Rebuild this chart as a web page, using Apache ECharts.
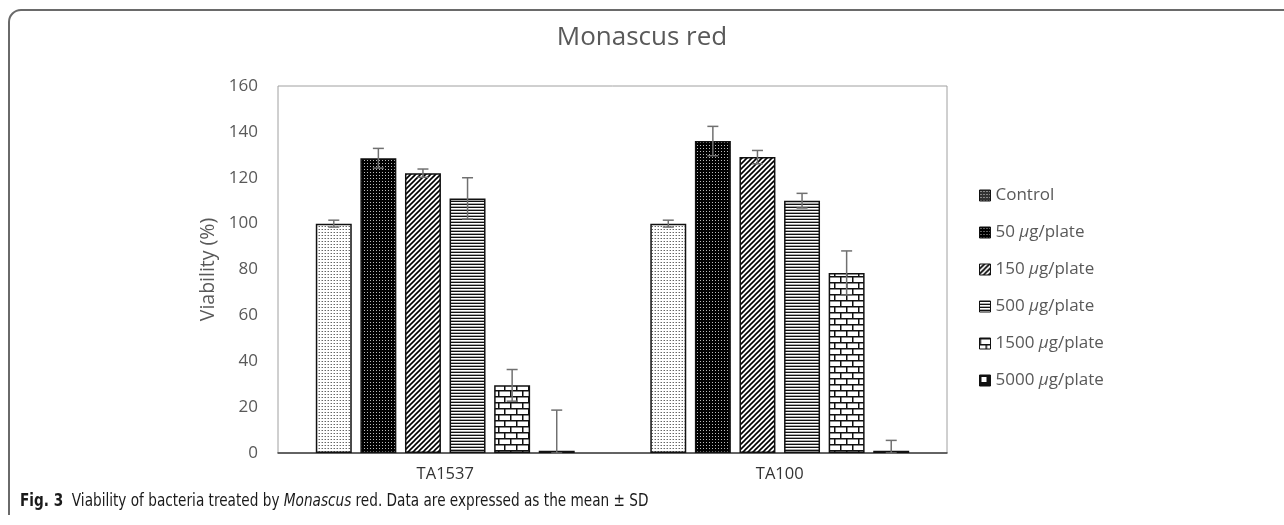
<!DOCTYPE html>
<html>
<head>
<meta charset="utf-8">
<script src="https://cdn.jsdelivr.net/npm/echarts@6/dist/echarts.min.js"></script>
<style>html,body{margin:0;padding:0;background:#fff}#c{width:1284px;height:525px}</style>
</head>
<body>
<div id="c"></div>
<script>
// ---- data ----
const categories = ['TA1537', 'TA100'];
const seriesNames = ['Control', '50 μg/plate', '150 μg/plate', '500 μg/plate', '1500 μg/plate', '5000 μg/plate'];
const controlVals = [100, 100];
const d50Vals = [128.5, 136];
const d150Vals = [122, 129];
const d500Vals = [111, 110];
const d1500Vals = [29.5, 78.5];
const d5000Vals = [1, 1];
const controlErr = [1.5, 1.5];
const d50Err = [4.3, 6.4];
const d150Err = [1.8, 2.9];
const d500Err = [9, 3.2];
const d1500Err = [6.9, 9.6];
const d5000Err = [17.7, 4.5];
const yTicks = [0, 20, 40, 60, 80, 100, 120, 140, 160];

const allVals = [controlVals, d50Vals, d150Vals, d500Vals, d1500Vals, d5000Vals];
const allErr = [controlErr, d50Err, d150Err, d500Err, d1500Err, d5000Err];

// ---- patterns ----
function tile(w, h, draw) {
  const c = document.createElement('canvas');
  c.width = w; c.height = h;
  const g = c.getContext('2d');
  draw(g, w, h);
  return { image: c, repeat: 'repeat' };
}
const patControl = tile(3, 3, (g) => { g.fillStyle = '#fff'; g.fillRect(0,0,3,3); g.fillStyle = '#666'; g.fillRect(1,1,1,1); g.fillStyle='#bbb'; g.fillRect(0,1,1,1); });
const iconControl = tile(3, 3, (g) => { g.fillStyle = '#333'; g.fillRect(0,0,3,3); g.fillStyle = '#ddd'; g.fillRect(1,1,1,1); });
const pat50 = tile(3, 3, (g) => { g.fillStyle = '#000'; g.fillRect(0,0,3,3); g.fillStyle = '#bbb'; g.fillRect(1,1,1,1); });
const pat150 = tile(5, 5, (g) => {
  g.fillStyle = '#fff'; g.fillRect(0,0,5,5);
  g.strokeStyle = '#000'; g.lineWidth = 1.6;
  g.beginPath(); g.moveTo(-1,6); g.lineTo(6,-1); g.stroke();
  g.beginPath(); g.moveTo(-1,1); g.lineTo(1,-1); g.stroke();
  g.beginPath(); g.moveTo(4,6); g.lineTo(6,4); g.stroke();
});
const pat500 = tile(4, 3, (g) => { g.fillStyle = '#fff'; g.fillRect(0,0,4,3); g.fillStyle = '#111'; g.fillRect(0,0,4,1); g.fillStyle = '#aaa'; g.fillRect(0,2,4,1); });
const pat1500 = tile(12, 12, (g) => {
  g.fillStyle = '#fff'; g.fillRect(0,0,12,12);
  g.fillStyle = '#111';
  g.fillRect(0,0,12,1.5); g.fillRect(0,6,12,1.5);
  g.fillRect(0,0,1.5,6); g.fillRect(6,6,1.5,6);
});
const pat5000 = tile(4, 4, (g) => { g.fillStyle = '#fff'; g.fillRect(0,0,4,4); });
const icon5000 = tile(11, 11, (g) => { g.fillStyle = '#111'; g.fillRect(0,0,11,11); g.fillStyle = '#fff'; g.fillRect(2,2,5,5); });
const patterns = [patControl, pat50, pat150, pat500, pat1500, pat5000];
const iconPatterns = [iconControl, pat50, pat150, pat500, pat1500, icon5000];

const CAT_GAP = 0.226, BAR_GAP = 0.24, NB = 6;

const barSeries = seriesNames.map((name, i) => ({
  name: name,
  type: 'bar',
  data: allVals[i],
  barCategoryGap: (CAT_GAP * 100) + '%',
  barGap: (BAR_GAP * 100) + '%',
  itemStyle: { color: patterns[i], borderColor: '#111', borderWidth: 1.5 },
  emphasis: { disabled: true }
}));

const errData = [];
allVals.forEach((vals, s) => vals.forEach((v, c) => errData.push([c, v, allErr[s][c], s])));

const errSeries = {
  type: 'custom',
  data: errData,
  encode: { x: 0, y: 1 },
  z: 10,
  silent: true,
  renderItem: function (params, api) {
    const cat = api.value(0), val = api.value(1), err = api.value(2), s = api.value(3);
    const center = api.coord([cat, val]);
    const band = api.size([1, 0])[0];
    const usable = band * (1 - CAT_GAP);
    const bw = usable / (NB + (NB - 1) * BAR_GAP);
    const x = center[0] - usable / 2 + s * bw * (1 + BAR_GAP) + bw / 2;
    const yt = api.coord([cat, val + err])[1];
    const yb = api.coord([cat, Math.max(0, val - err)])[1];
    const st = { stroke: '#707070', lineWidth: 1.5 };
    return {
      type: 'group',
      children: [
        { type: 'line', shape: { x1: x, y1: yt, x2: x, y2: yb }, style: st },
        { type: 'line', shape: { x1: x - 5.5, y1: yt, x2: x + 5.5, y2: yt }, style: st },
        { type: 'line', shape: { x1: x - 5.5, y1: yb, x2: x + 5.5, y2: yb }, style: st }
      ]
    };
  }
};

const FONT = "'Open Sans', 'Noto Sans', sans-serif";
const CAP_FONT = "'Liberation Sans Narrow','DejaVu Sans Condensed',sans-serif";
const frameStyle = { stroke: '#6a6a6a', lineWidth: 2, fill: null };
const chart = echarts.init(document.getElementById('c'), null, { renderer: 'canvas' });
chart.setOption({
  animation: false,
  backgroundColor: '#fff',
  textStyle: { fontFamily: FONT },
  title: {
    text: 'Monascus red',
    left: 'center',
    top: 20,
    textStyle: { fontFamily: FONT, fontSize: 26, fontWeight: 'normal', color: '#595959' }
  },
  legend: {
    orient: 'vertical',
    left: 974,
    top: 182,
    itemWidth: 11,
    itemHeight: 11,
    itemGap: 20,
    selectedMode: false,
    data: seriesNames.map((n, i) => ({ name: n, icon: 'rect', itemStyle: { color: iconPatterns[i], borderColor: '#111', borderWidth: 1 } })),
    formatter: function (name) {
      const parts = name.split('μ');
      if (parts.length < 2) return '{a|' + name + '}';
      return '{a|' + parts[0] + '}{i|μ}{a|' + parts[1] + '}';
    },
    textStyle: {
      fontFamily: FONT, fontSize: 17, color: '#595959', lineHeight: 16,
      rich: {
        a: { fontFamily: FONT, fontSize: 17, color: '#595959', lineHeight: 16 },
        i: { fontFamily: FONT, fontSize: 17, color: '#595959', fontStyle: 'italic', lineHeight: 16 }
      }
    }
  },
  grid: { left: 278, top: 86, right: 337, bottom: 72, show: true, borderColor: '#a0a0a0', borderWidth: 1 },
  xAxis: {
    type: 'category',
    data: categories,
    axisLine: { show: true, lineStyle: { color: '#404040', width: 1.5 } },
    axisTick: { show: false },
    axisLabel: { fontFamily: FONT, fontSize: 16.5, color: '#333', margin: 13 }
  },
  yAxis: {
    type: 'value',
    min: yTicks[0],
    max: yTicks[yTicks.length - 1],
    interval: 20,
    name: 'Viability (%)',
    nameLocation: 'middle',
    nameGap: 52,
    nameTextStyle: { fontFamily: FONT, fontSize: 19.5, color: '#595959' },
    axisLine: { show: false },
    axisTick: { show: false },
    splitLine: { show: false },
    axisLabel: { fontFamily: FONT, fontSize: 17, color: '#595959', margin: 20 }
  },
  graphic: [
    { type: 'line', silent: true, shape: { x1: 9, y1: 22, x2: 9, y2: 515 }, style: frameStyle },
    { type: 'line', silent: true, shape: { x1: 21, y1: 10, x2: 1284, y2: 10 }, style: frameStyle },
    { type: 'arc', silent: true, shape: { cx: 21, cy: 22, r: 12, startAngle: Math.PI, endAngle: Math.PI * 1.5 }, style: frameStyle },
    {
      type: 'text',
      x: 20,
      y: 502,
      scaleX: 0.892,
      style: {
        text: '{b|Fig. 3}{n|  Viability of bacteria treated by }{i|Monascus}{n| red. Data are expressed as the mean ± SD}',
        verticalAlign: 'middle',
        rich: {
          b: { fontFamily: CAP_FONT, fontSize: 17, fontWeight: 'bold', fill: '#1a1a1a' },
          n: { fontFamily: CAP_FONT, fontSize: 17, fill: '#1a1a1a' },
          i: { fontFamily: CAP_FONT, fontSize: 17, fontStyle: 'italic', fill: '#1a1a1a' }
        }
      }
    }
  ],
  series: barSeries.concat([errSeries])
});
</script>
</body>
</html>
